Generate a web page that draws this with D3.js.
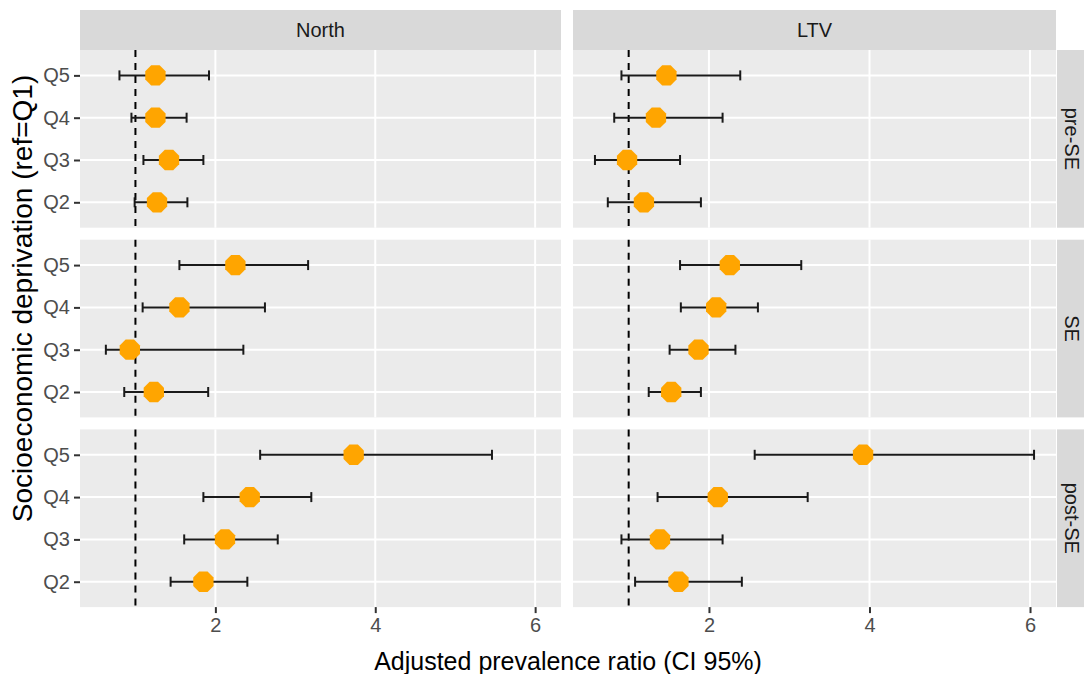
<!DOCTYPE html>
<html>
<head>
<meta charset="utf-8">
<script src="https://cdn.jsdelivr.net/npm/d3@7"></script>
<style>
  html, body { margin: 0; padding: 0; background: #ffffff; }
  svg { display: block; font-family: "Liberation Sans", Arial, sans-serif; }
</style>
</head>
<body>
<svg id="chart" width="1084" height="674"></svg>
<script>
// ---------------- data ----------------
const categories = ["Q5", "Q4", "Q3", "Q2"];
const regions = ["North", "LTV"];
const periods = ["pre-SE", "SE", "post-SE"];
const xTicks = [2, 4, 6];
const refValue = 1;

// values ordered: pre-SE (Q5..Q2), SE (Q5..Q2), post-SE (Q5..Q2)
const northEst   = [1.25, 1.25, 1.42, 1.27,  2.25, 1.55, 0.93, 1.23,  3.73, 2.43, 2.12, 1.85];
const northLower = [0.80, 0.95, 1.10, 0.99,  1.55, 1.09, 0.63, 0.86,  2.56, 1.85, 1.61, 1.44];
const northUpper = [1.92, 1.64, 1.85, 1.65,  3.16, 2.62, 2.35, 1.91,  5.46, 3.20, 2.78, 2.40];

const ltvEst     = [1.47, 1.34, 0.98, 1.19,  2.26, 2.09, 1.87, 1.53,  3.92, 2.11, 1.39, 1.62];
const ltvLower   = [0.91, 0.82, 0.58, 0.74,  1.64, 1.65, 1.51, 1.25,  2.57, 1.36, 0.91, 1.08];
const ltvUpper   = [2.39, 2.17, 1.64, 1.90,  3.15, 2.61, 2.33, 1.90,  6.05, 3.23, 2.17, 2.41];

const xTitle = "Adjusted prevalence ratio (CI 95%)";
const yTitle = "Socioeconomic deprivation (ref=Q1)";

// ---------------- build rows ----------------
const seriesByRegion = {
  "North": { est: northEst, lo: northLower, hi: northUpper },
  "LTV":   { est: ltvEst,   lo: ltvLower,   hi: ltvUpper }
};
const rows = [];
regions.forEach(r => {
  const s = seriesByRegion[r];
  periods.forEach((p, pi) => {
    categories.forEach((c, ci) => {
      const i = pi * categories.length + ci;
      rows.push({ region: r, period: p, cat: c, est: s.est[i], lo: s.lo[i], hi: s.hi[i] });
    });
  });
});

// ---------------- layout ----------------
const svg = d3.select("#chart");
const colX = [[80, 561], [573, 1056]];
const panelTop0 = 50, panelH = 177.7, panelGap = 12;
const stripTop = 10, stripH = 40;
const rightStripX = 1057, rightStripW = 38;

const lo = d3.min(rows, d => d.lo), hi = d3.max(rows, d => d.hi);
const span = hi - lo;
const xDomain = [lo - 0.05 * span, hi + 0.05 * span];

const panelBg = "#EBEBEB", stripBg = "#D9D9D9", gridCol = "#FFFFFF";
const tickTextCol = "#4D4D4D", tickCol = "#333333";

const axisFont = 20, titleFont = 25, yTitleFont = 28, stripFont = 20;

regions.forEach((r, ri) => {
  const [x0, x1] = colX[ri];
  const x = d3.scaleLinear().domain(xDomain).range([x0, x1]);

  // top strip
  svg.append("rect").attr("x", x0).attr("y", stripTop).attr("width", x1 - x0).attr("height", stripH)
    .attr("fill", stripBg);
  svg.append("text").attr("x", (x0 + x1) / 2).attr("y", stripTop + stripH / 2)
    .attr("text-anchor", "middle").attr("dominant-baseline", "central")
    .attr("font-size", stripFont).attr("fill", "#1A1A1A").text(r);

  periods.forEach((p, pi) => {
    const top = panelTop0 + pi * (panelH + panelGap);
    const bottom = top + panelH;
    const y = d3.scalePoint().domain(categories).range([top, bottom]).padding(0.6);
    const g = svg.append("g");

    g.append("rect").attr("x", x0).attr("y", top).attr("width", x1 - x0).attr("height", panelH)
      .attr("fill", panelBg);

    // grid
    g.selectAll("line.vg").data(xTicks).join("line")
      .attr("x1", d => x(d)).attr("x2", d => x(d)).attr("y1", top).attr("y2", bottom)
      .attr("stroke", gridCol).attr("stroke-width", 2);
    g.selectAll("line.hg").data(categories).join("line")
      .attr("x1", x0).attr("x2", x1).attr("y1", d => y(d)).attr("y2", d => y(d))
      .attr("stroke", gridCol).attr("stroke-width", 2);

    // reference line
    g.append("line").attr("x1", x(refValue)).attr("x2", x(refValue)).attr("y1", top).attr("y2", bottom)
      .attr("stroke", "#000").attr("stroke-width", 2).attr("stroke-dasharray", "7,6");

    const data = rows.filter(d => d.region === r && d.period === p);
    const capH = 5;
    // error bars
    g.selectAll("line.eb").data(data).join("line")
      .attr("x1", d => x(d.lo)).attr("x2", d => x(d.hi)).attr("y1", d => y(d.cat)).attr("y2", d => y(d.cat))
      .attr("stroke", "#1A1A1A").attr("stroke-width", 2);
    g.selectAll("line.capl").data(data).join("line")
      .attr("x1", d => x(d.lo)).attr("x2", d => x(d.lo)).attr("y1", d => y(d.cat) - capH).attr("y2", d => y(d.cat) + capH)
      .attr("stroke", "#1A1A1A").attr("stroke-width", 2);
    g.selectAll("line.caph").data(data).join("line")
      .attr("x1", d => x(d.hi)).attr("x2", d => x(d.hi)).attr("y1", d => y(d.cat) - capH).attr("y2", d => y(d.cat) + capH)
      .attr("stroke", "#1A1A1A").attr("stroke-width", 2);

    // points (octagon-like)
    const R = 11;
    const octagon = d3.range(8).map(k => {
      const a = Math.PI / 8 + k * Math.PI / 4;
      return [R * Math.cos(a), R * Math.sin(a)];
    });
    g.selectAll("path.pt").data(data).join("path")
      .attr("transform", d => `translate(${x(d.est)},${y(d.cat)})`)
      .attr("d", d3.line()(octagon) + "Z")
      .attr("fill", "#FFA500");

    // y axis on left column
    if (ri === 0) {
      const ax = g.append("g").attr("transform", `translate(${x0},0)`)
        .call(d3.axisLeft(y).tickSize(6).tickPadding(4));
      ax.select(".domain").remove();
      ax.selectAll(".tick line").attr("stroke", tickCol).attr("stroke-width", 2);
      ax.selectAll(".tick text").attr("fill", tickTextCol).attr("font-size", axisFont)
        .attr("font-family", "Liberation Sans, Arial, sans-serif");
    }
    // right strip on right column
    if (ri === regions.length - 1) {
      svg.append("rect").attr("x", rightStripX).attr("y", top).attr("width", rightStripW).attr("height", panelH)
        .attr("fill", stripBg);
      svg.append("text")
        .attr("transform", `translate(${rightStripX + 15},${top + panelH / 2}) rotate(90)`)
        .attr("text-anchor", "middle").attr("dominant-baseline", "central")
        .attr("font-size", stripFont).attr("fill", "#1A1A1A").text(p);
    }
    // x axis on bottom row
    if (pi === periods.length - 1) {
      const ax = g.append("g").attr("transform", `translate(0,${bottom})`)
        .call(d3.axisBottom(x).tickValues(xTicks).tickFormat(d3.format("d")).tickSize(6).tickPadding(5));
      ax.select(".domain").remove();
      ax.selectAll(".tick line").attr("stroke", tickCol).attr("stroke-width", 2);
      ax.selectAll(".tick text").attr("fill", tickTextCol).attr("font-size", axisFont)
        .attr("font-family", "Liberation Sans, Arial, sans-serif");
    }
  });
});

// axis titles
svg.append("text").attr("x", (colX[0][0] + colX[1][1]) / 2).attr("y", 661)
  .attr("text-anchor", "middle").attr("dominant-baseline", "central")
  .attr("font-size", titleFont).attr("fill", "#000").text(xTitle);
svg.append("text")
  .attr("transform", `translate(22,${(stripTop + 607) / 2 - 10}) rotate(-90)`)
  .attr("text-anchor", "middle").attr("dominant-baseline", "central")
  .attr("font-size", yTitleFont).attr("fill", "#000").text(yTitle);
</script>
</body>
</html>
